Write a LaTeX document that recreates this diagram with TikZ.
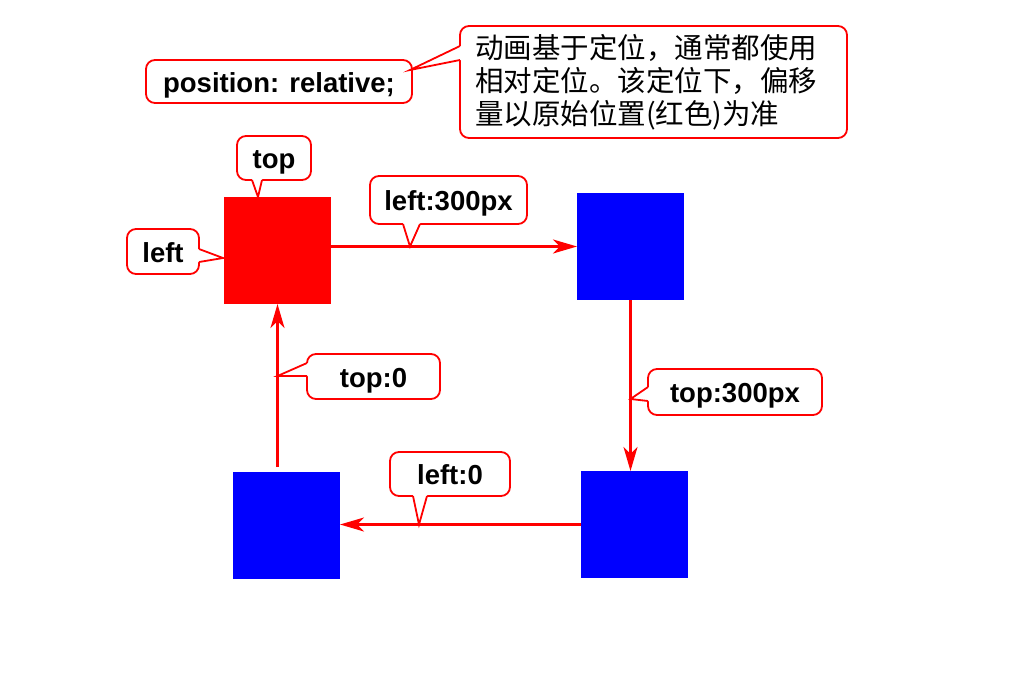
\documentclass[tikz,border=0pt]{standalone}
\usepackage{fontspec}
\setmainfont{Liberation Sans}
\newfontfamily\cjk{Noto Sans CJK SC}
\usetikzlibrary{arrows.meta,calc}

\begin{document}
\begin{tikzpicture}[
  x=1pt,y=-1pt,
  >={Stealth[length=24pt,width=14pt,inset=7pt]},
  every node/.style={font=\bfseries\fontsize{27.5}{32}\selectfont},
  square/.style={minimum width=107pt,minimum height=107pt,inner sep=0pt,outer sep=0pt},
  origin/.style={square,fill=red},
  moved/.style={square,fill=blue},
  move/.style={->,draw=red,line width=2.5pt},
  callout/.style={draw=red,line width=1.8pt,fill=white,rounded corners=9pt,inner sep=0pt,
                  text height=22pt,text depth=1pt},
  tail/.style={draw=red,line width=1.8pt,line join=miter}
]
\useasboundingbox (0,0) rectangle (1024,680);

% ------------------------------------------------------------------
% Positions of the box
% ------------------------------------------------------------------
\node[origin] (red) at (277.5,250.5) {};
\node[moved] (right) at (630.5,246.5) {};
\node[moved] (down) at (634.5,524.5) {};
\node[moved] (back) at (286.5,525.5) {};

\draw[move] (red.east |- right.west) -- (right.west);
\draw[move] (right.south) -- (right.south |- down.north);
\draw[move] (down.west) -- (back.east |- down.west);
\draw[move,shorten <=5pt] (red.south |- back.north) -- (red.south);

% ------------------------------------------------------------------
% Callouts
% ------------------------------------------------------------------
\node[callout,minimum width=266pt,minimum height=43pt] (pos) at (279,81.5) {position: relative;};
\node[callout,minimum width=387pt,minimum height=112pt,text width=357pt,align=left,
      text height=,text depth=,
      font=\cjk\fontsize{28.5}{33}\selectfont] (note) at (653.5,82)
  {动画基于定位，通常都使用\\相对定位。该定位下，偏移\\量以原始位置(红色)为准};
\node[callout,minimum width=74pt,minimum height=44pt] (top) at (274,158) {top};
\node[callout,minimum width=72pt,minimum height=45pt] (left) at (163,251.5) {left};
\node[callout,minimum width=157pt,minimum height=48pt] (left300) at (448.5,200) {left:300px};
\node[callout,minimum width=133pt,minimum height=45pt] (top0) at (373.5,376.5) {top:0};
\node[callout,minimum width=174pt,minimum height=46pt] (top300) at (735,392) {top:300px};
\node[callout,minimum width=120pt,minimum height=44pt] (left0) at (450,474) {left:0};

% pointer tips
\coordinate (tNote) at (410,70);
\coordinate (tTop) at (258,197);
\coordinate (tLeft) at (223,258);
\coordinate (tLeft300) at (410,246.5);
\coordinate (tTop0) at (277.5,376);
\coordinate (tTop300) at (630.5,399);
\coordinate (tLeft0) at (419,524.5);

\fill[white] (460,46) -- (tNote) -- (460,60) -- (463,60) -- (463,46) -- cycle;
\draw[tail] (460,46) -- (tNote) -- (460,60);

\fill[white] (252,180) -- (tTop) -- (262,180) -- (262,177) -- (252,177) -- cycle;
\draw[tail] (252,180) -- (tTop) -- (262,180);

\fill[white] (199,249) -- (tLeft) -- (199,262) -- (196,262) -- (196,249) -- cycle;
\draw[tail] (199,249) -- (tLeft) -- (199,262);

\fill[white] (403,224) -- (tLeft300) -- (420,224) -- (420,221) -- (403,221) -- cycle;
\draw[tail] (403,224) -- (tLeft300) -- (420,224);

\fill[white] (307,363) -- (tTop0) -- (307,376) -- (310,376) -- (310,363) -- cycle;
\draw[tail] (307,363) -- (tTop0) -- (307,376);

\fill[white] (648,387) -- (tTop300) -- (648,401) -- (651,401) -- (651,387) -- cycle;
\draw[tail] (648,387) -- (tTop300) -- (648,401);

\fill[white] (413,496) -- (tLeft0) -- (427,496) -- (427,493) -- (413,493) -- cycle;
\draw[tail] (413,496) -- (tLeft0) -- (427,496);

\end{tikzpicture}
\end{document}
